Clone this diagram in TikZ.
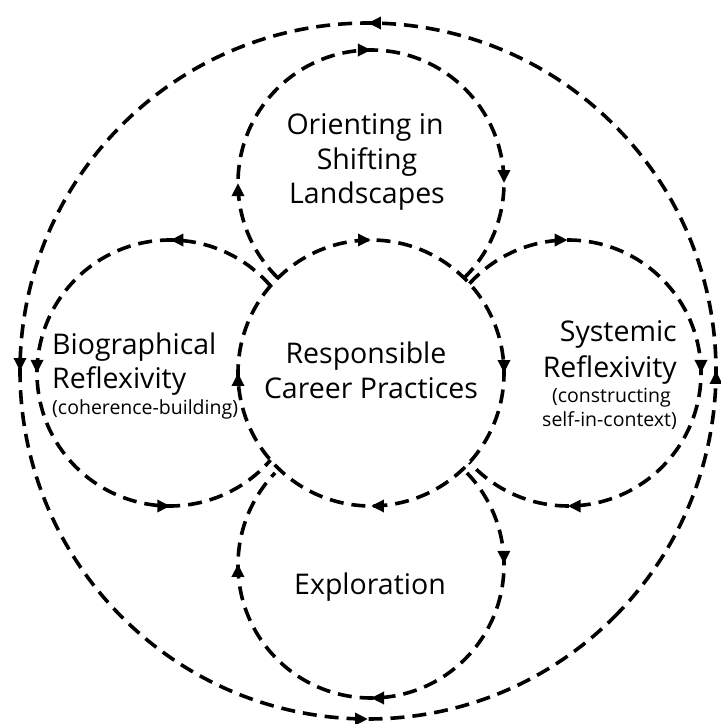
\documentclass[tikz,border=0pt]{standalone}
\usepackage{fontspec}
\setmainfont{Open Sans}
\usetikzlibrary{arrows.meta,decorations.markings}
\tikzset{
  dline/.style={line width=3.6pt, dash pattern=on 14pt off 8pt, line cap=butt},
  tipat/.style={postaction={decorate,decoration={markings,
     mark=at position #1 with {\arrow{Triangle[length=13pt,width=12pt]}}}}},
  big/.style={font=\fontsize{28.5}{34}\selectfont, inner sep=0pt},
  small/.style={font=\fontsize{19.5}{22}\selectfont, inner sep=0pt}
}
\begin{document}
\begin{tikzpicture}[x=1pt,y=1pt]
\useasboundingbox (0,0) rectangle (721,724);
% circle centres
\coordinate (cC) at (371,351);
\coordinate (cT) at (371,541);
\coordinate (cB) at (371,159);
\coordinate (cL) at (170,351);
\coordinate (cR) at (568,351);
\coordinate (cO) at (368,353);
% outer circle (counter-clockwise)
\draw[dline, tipat=0.125, tipat=0.375, tipat=0.625, tipat=0.875]
  ([shift={(-45:348)}]cO) arc[start angle=-45, end angle=315, radius=348];
% centre circle (clockwise)
\draw[dline, tipat=0.125, tipat=0.375, tipat=0.625, tipat=0.875]
  ([shift={(135:133)}]cC) arc[start angle=135, end angle=-225, radius=133];
% top circle (clockwise)
\draw[dline, tipat=0.168, tipat=0.5, tipat=0.832]
  ([shift={(225.6:133)}]cT) arc[start angle=225.6, end angle=-45.6, radius=133];
% bottom circle (clockwise)
\draw[dline, tipat=0.162, tipat=0.5, tipat=0.838]
  ([shift={(403.8:133)}]cB) arc[start angle=403.8, end angle=136.2, radius=133];
% left circle (counter-clockwise)
\draw[dline, tipat=0.176, tipat=0.5, tipat=0.824]
  ([shift={(40.9:133)}]cL) arc[start angle=40.9, end angle=319.1, radius=133];
% right circle (clockwise)
\draw[dline, tipat=0.173, tipat=0.5, tipat=0.827]
  ([shift={(137.8:133)}]cR) arc[start angle=137.8, end angle=-137.8, radius=133];
% texts
\node[big, anchor=base] (o1) at (365,589) {Orienting in};
\node[big, anchor=base] (o2) at (367,554) {Shifting};
\node[big, anchor=base] (o3) at (367,520) {Landscapes};
\node[big, anchor=base] (r1) at (366,360) {Responsible};
\node[big, anchor=base] (r2) at (371,325) {Career Practices};
\node[big, anchor=base west] (b1) at (52,369) {Biographical};
\node[big, anchor=base west] (b2) at (52,335) {Reflexivity};
\node[small, anchor=base west] (b3) at (52,309) {(coherence-building)};
\node[big, anchor=base east] (s1) at (677,382) {Systemic};
\node[big, anchor=base east] (s2) at (677,346) {Reflexivity};
\node[small, anchor=base east] (s3) at (671,321) {(constructing};
\node[small, anchor=base east] (s4) at (677,297) {self-in-context)};
\node[big, anchor=base] (e1) at (370,129) {Exploration};
\end{tikzpicture}
\end{document}
